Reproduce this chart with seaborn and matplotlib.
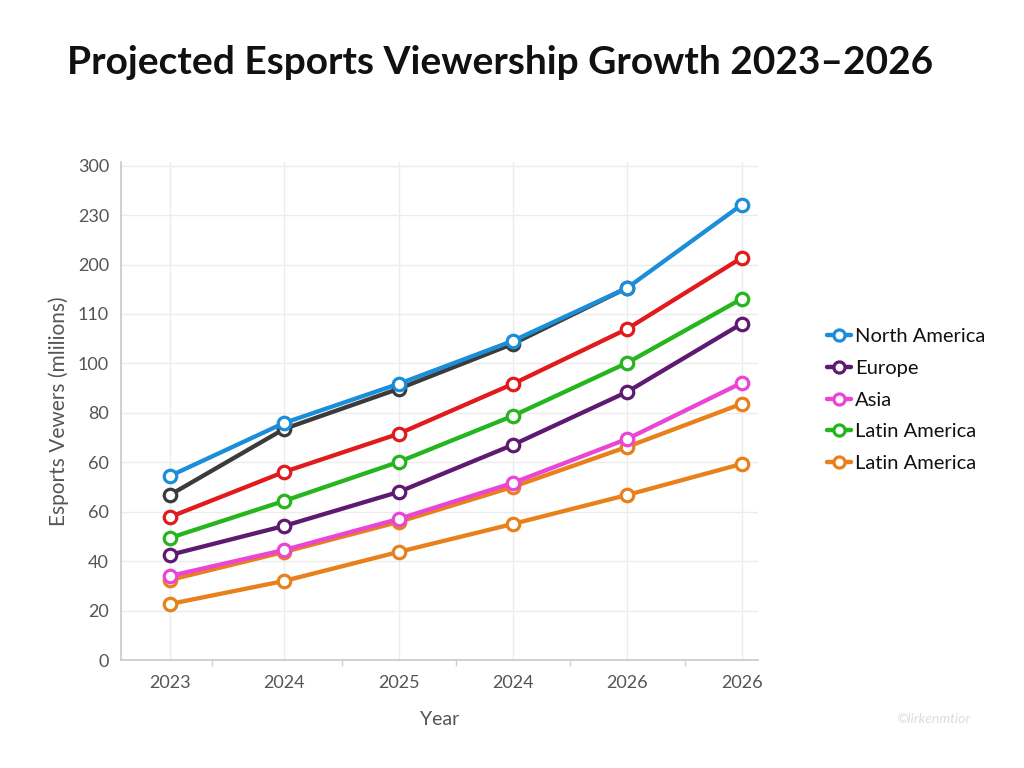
import numpy as np
import pandas as pd
import matplotlib
matplotlib.use("Agg")
import matplotlib.pyplot as plt
from matplotlib.lines import Line2D
from matplotlib.legend_handler import HandlerLine2D
import seaborn as sns

# ---- data (values on the chart's linear 0-300 scale) ----
year_labels = ["2023", "2024", "2025", "2024", "2026", "2026"]
ytick_values = [0, 30, 60, 90, 120, 150, 180, 210, 240, 270, 300]
ytick_labels = ["0", "20", "40", "60", "60", "80", "100", "110", "200", "230", "300"]

series_names = ["Unlabeled", "Orange 2", "Latin America (orange)", "Asia", "Europe",
                "Latin America", "Red", "North America"]
unlabeled = [100.2, 140.3, 164.6, 191.9, 225.9, np.nan]
orange2 = [34.0, 48.0, 65.6, 82.6, 100.2, 119.0]
orange1 = [48.6, 65.6, 83.8, 105.1, 129.4, 155.5]
asia = [51.0, 66.8, 85.6, 107.5, 134.2, 168.2]
europe = [63.8, 81.4, 102.0, 130.6, 162.8, 204.1]
latin_america = [74.1, 96.6, 120.2, 148.2, 180.4, 219.2]
red = [86.8, 114.2, 137.3, 167.6, 201.0, 244.1]
north_america = [111.7, 143.9, 167.6, 193.7, 225.9, 276.3]

colors = {
    "Unlabeled": "#3b3b3b",
    "Orange 2": "#e8801c",
    "Latin America (orange)": "#e8801c",
    "Asia": "#ea45d4",
    "Europe": "#5e1a70",
    "Latin America": "#25b51c",
    "Red": "#e11b1d",
    "North America": "#1a8ed8",
}

all_vals = [unlabeled, orange2, orange1, asia, europe, latin_america, red, north_america]
rows = []
for name, vals in zip(series_names, all_vals):
    for i, v in enumerate(vals):
        rows.append({"series": name, "x": i, "value": v})
df = pd.DataFrame(rows)

sns.set_theme(style="white")
plt.rcParams["font.family"] = ["Lato", "DejaVu Sans"]

fig = plt.figure(figsize=(10.24, 7.68), dpi=100)
ax = fig.add_axes([0.118, 0.1406, 0.622, 0.648])

for name in series_names:
    sub = df[df["series"] == name].dropna()
    sns.lineplot(data=sub, x="x", y="value", ax=ax, color=colors[name], lw=3.1,
                 marker="o", markersize=9, markerfacecolor="white",
                 markeredgecolor=colors[name], markeredgewidth=2.3, sort=False,
                 legend=False, zorder=3)

ax.set_xlim(-0.43, 5.14)
ax.set_ylim(0, 302)
ax.set_xticks(range(len(year_labels)))
ax.set_xticklabels(year_labels)
ax.set_xticks([0.37, 1.5, 2.5, 3.5, 4.5], minor=True)
ax.set_yticks(ytick_values)
ax.set_yticklabels(ytick_labels)

ax.grid(True, which="major", color="#ececec", lw=1)
for s in ["top", "right"]:
    ax.spines[s].set_visible(False)
for s in ["left", "bottom"]:
    ax.spines[s].set_color("#c8c8c8")
    ax.spines[s].set_linewidth(1.2)
ax.tick_params(axis="both", which="major", length=5, color="#c8c8c8",
               labelsize=13, labelcolor="#555555", direction="out")
ax.tick_params(axis="x", which="minor", length=4, color="#d0d0d0", bottom=True)
ax.tick_params(axis="x", pad=6)
ax.set_xlabel("Year", fontsize=14, color="#555555", labelpad=14)
ax.set_ylabel("Esports Vewers (mlilions)", fontsize=15, color="#555555", labelpad=6)

fig.text(0.065, 0.918, "Projected Esports Viewership Growth 2023\u20132026",
         fontsize=28, fontweight="bold", color="#111111", va="center", ha="left")


class EndMarkerHandler(HandlerLine2D):
    def get_xdata(self, legend, xdescent, ydescent, width, height, fontsize):
        xdata, _ = super().get_xdata(legend, xdescent, ydescent, width, height, fontsize)
        return xdata, np.array([xdata[-1]])


legend_names = ["North America", "Europe", "Asia", "Latin America", "Latin America"]
legend_keys = ["North America", "Europe", "Asia", "Latin America", "Latin America (orange)"]
handles = [Line2D([0], [0], color=colors[k], lw=3.2, marker="o", markersize=8,
                  markerfacecolor="white", markeredgecolor=colors[k], markeredgewidth=2.3)
           for k in legend_keys]
fig.legend(handles, legend_names, loc="center left", bbox_to_anchor=(0.79, 0.479),
           frameon=False, fontsize=14.5, handlelength=1.2, handletextpad=0.2,
           labelspacing=0.72, numpoints=1, labelcolor="#111111",
           handler_map={h: EndMarkerHandler() for h in handles})

fig.text(0.875, 0.058, "\u00a9lirkenmtior", fontsize=10, color="#dddddd",
         style="italic", ha="left")

fig.savefig("out.png", dpi=100, facecolor="white")
